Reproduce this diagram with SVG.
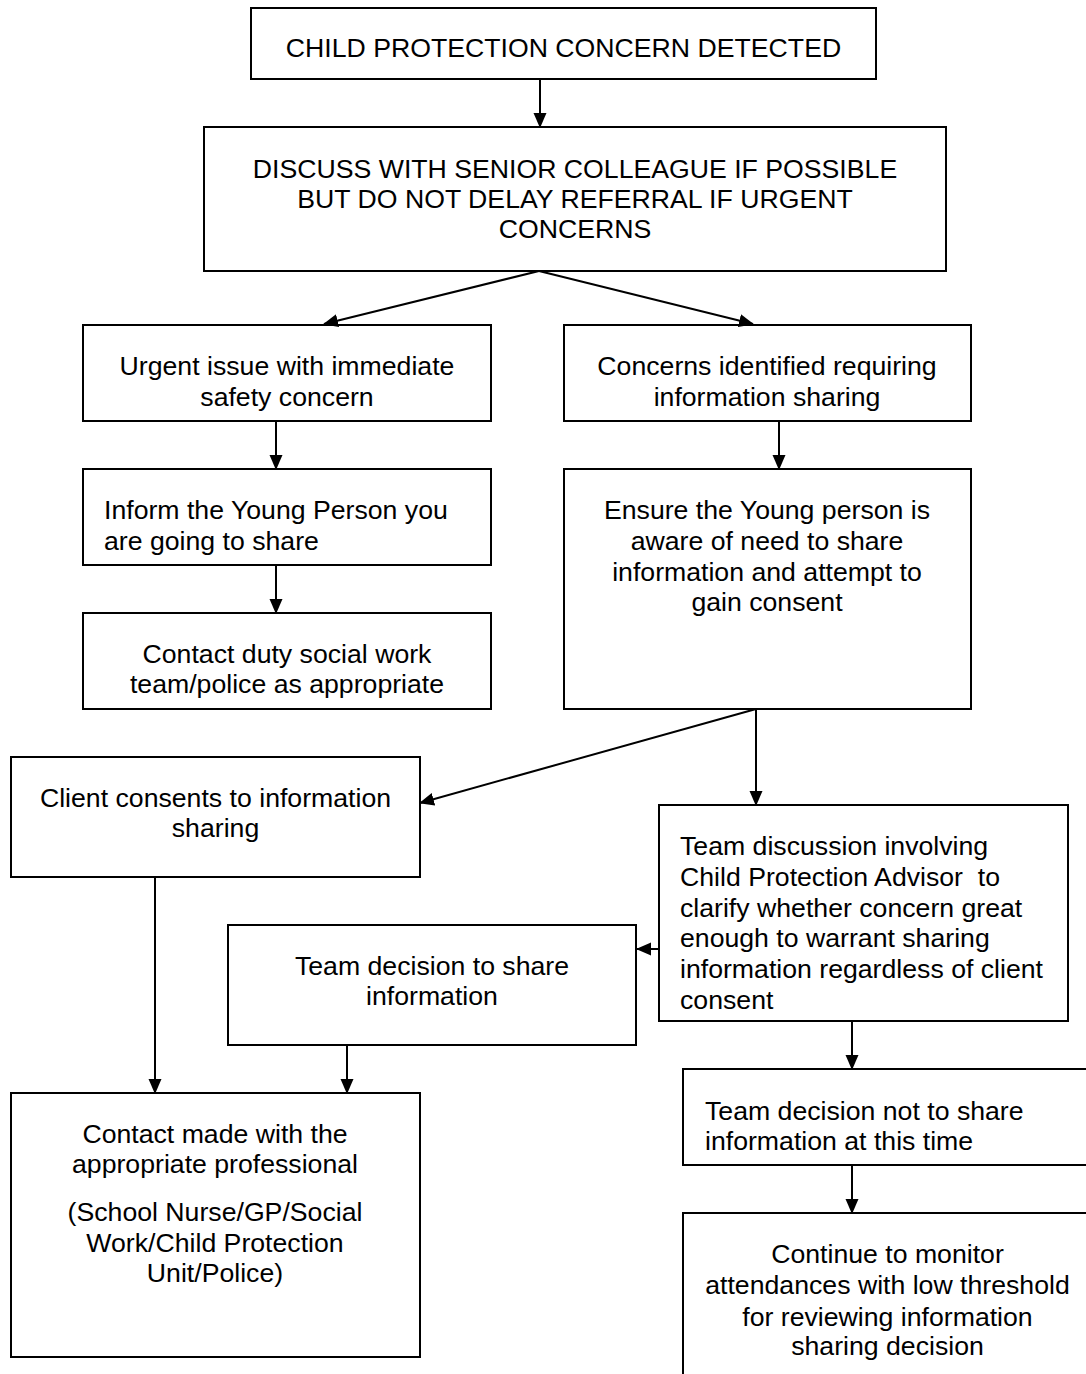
<svg xmlns="http://www.w3.org/2000/svg" width="1086" height="1374" viewBox="0 0 1086 1374">
  <style>
    .box { fill: #ffffff; stroke: #000000; stroke-width: 2; }
    .t { font-family: "Liberation Sans", Arial, sans-serif; font-size: 26.67px; fill: #000000; }
    .c { text-anchor: middle; }
    .l { text-anchor: start; }
    .conn { stroke: #000000; stroke-width: 2; fill: none; marker-end: url(#arrow); }
  </style>
  <defs>
    <marker id="arrow" markerUnits="userSpaceOnUse" markerWidth="15" markerHeight="14" refX="14" refY="6.5" orient="auto">
      <path d="M0,0 L15,6.5 L0,13 z" fill="#000000"/>
    </marker>
  </defs>
  <rect x="0" y="0" width="1086" height="1374" fill="#ffffff"/>

  <g id="n1">
    <rect class="box" x="251" y="8" width="625" height="71"/>
    <text class="t c" x="563.5" y="57">CHILD PROTECTION CONCERN DETECTED</text>
  </g>
  <g id="n2">
    <rect class="box" x="204" y="127" width="742" height="144"/>
    <text class="t c" x="575" y="178">DISCUSS WITH SENIOR COLLEAGUE IF POSSIBLE</text>
    <text class="t c" x="575" y="208">BUT DO NOT DELAY REFERRAL IF URGENT</text>
    <text class="t c" x="575" y="238">CONCERNS</text>
  </g>
  <g id="n3">
    <rect class="box" x="83" y="325" width="408" height="96"/>
    <text class="t c" x="287" y="375">Urgent issue with immediate</text>
    <text class="t c" x="287" y="406">safety concern</text>
  </g>
  <g id="n4">
    <rect class="box" x="564" y="325" width="407" height="96"/>
    <text class="t c" x="767" y="375">Concerns identified requiring</text>
    <text class="t c" x="767" y="406">information sharing</text>
  </g>
  <g id="n5">
    <rect class="box" x="83" y="469" width="408" height="96"/>
    <text class="t l" x="104" y="519">Inform the Young Person you</text>
    <text class="t l" x="104" y="550">are going to share</text>
  </g>
  <g id="n6">
    <rect class="box" x="83" y="613" width="408" height="96"/>
    <text class="t c" x="287" y="663">Contact duty social work</text>
    <text class="t c" x="287" y="693">team/police as appropriate</text>
  </g>
  <g id="n7">
    <rect class="box" x="564" y="469" width="407" height="240"/>
    <text class="t c" x="767" y="519">Ensure the Young person is</text>
    <text class="t c" x="767" y="550">aware of need to share</text>
    <text class="t c" x="767" y="581">information and attempt to</text>
    <text class="t c" x="767" y="611">gain consent</text>
  </g>
  <g id="n8">
    <rect class="box" x="11" y="757" width="409" height="120"/>
    <text class="t c" x="215.5" y="807">Client consents to information</text>
    <text class="t c" x="215.5" y="837">sharing</text>
  </g>
  <g id="n9">
    <rect class="box" x="659" y="805" width="409" height="216"/>
    <text class="t l" x="680" y="855">Team discussion involving</text>
    <text class="t l" x="680" y="886" xml:space="preserve">Child Protection Advisor  to</text>
    <text class="t l" x="680" y="917">clarify whether concern great</text>
    <text class="t l" x="680" y="947">enough to warrant sharing</text>
    <text class="t l" x="680" y="978">information regardless of client</text>
    <text class="t l" x="680" y="1009">consent</text>
  </g>
  <g id="n10">
    <rect class="box" x="228" y="925" width="408" height="120"/>
    <text class="t c" x="432" y="975">Team decision to share</text>
    <text class="t c" x="432" y="1005">information</text>
  </g>
  <g id="n11">
    <rect class="box" x="11" y="1093" width="409" height="264"/>
    <text class="t c" x="215" y="1143">Contact made with the</text>
    <text class="t c" x="215" y="1173">appropriate professional</text>
    <text class="t c" x="215" y="1221">(School Nurse/GP/Social</text>
    <text class="t c" x="215" y="1252">Work/Child Protection</text>
    <text class="t c" x="215" y="1282">Unit/Police)</text>
  </g>
  <g id="n12">
    <rect class="box" x="683" y="1069" width="420" height="96"/>
    <text class="t l" x="705" y="1120">Team decision not to share</text>
    <text class="t l" x="705" y="1150">information at this time</text>
  </g>
  <g id="n13">
    <rect class="box" x="683" y="1213" width="420" height="200"/>
    <text class="t c" x="887.5" y="1263">Continue to monitor</text>
    <text class="t c" x="887.5" y="1294">attendances with low threshold</text>
    <text class="t c" x="887.5" y="1326">for reviewing information</text>
    <text class="t c" x="887.5" y="1355">sharing decision</text>
  </g>

  <g id="connectors">
    <line class="conn" x1="540" y1="79" x2="540" y2="127"/>
    <line class="conn" x1="539" y1="271" x2="324" y2="324"/>
    <line class="conn" x1="539" y1="271" x2="753" y2="324"/>
    <line class="conn" x1="276" y1="421" x2="276" y2="469"/>
    <line class="conn" x1="276" y1="565" x2="276" y2="613"/>
    <line class="conn" x1="779" y1="421" x2="779" y2="469"/>
    <line class="conn" x1="756" y1="709" x2="420" y2="803"/>
    <line class="conn" x1="756" y1="709" x2="756" y2="805"/>
    <line class="conn" x1="659" y1="949" x2="637" y2="949"/>
    <line class="conn" x1="155" y1="877" x2="155" y2="1093"/>
    <line class="conn" x1="347" y1="1045" x2="347" y2="1093"/>
    <line class="conn" x1="852" y1="1021" x2="852" y2="1069"/>
    <line class="conn" x1="852" y1="1165" x2="852" y2="1213"/>
  </g>
</svg>
